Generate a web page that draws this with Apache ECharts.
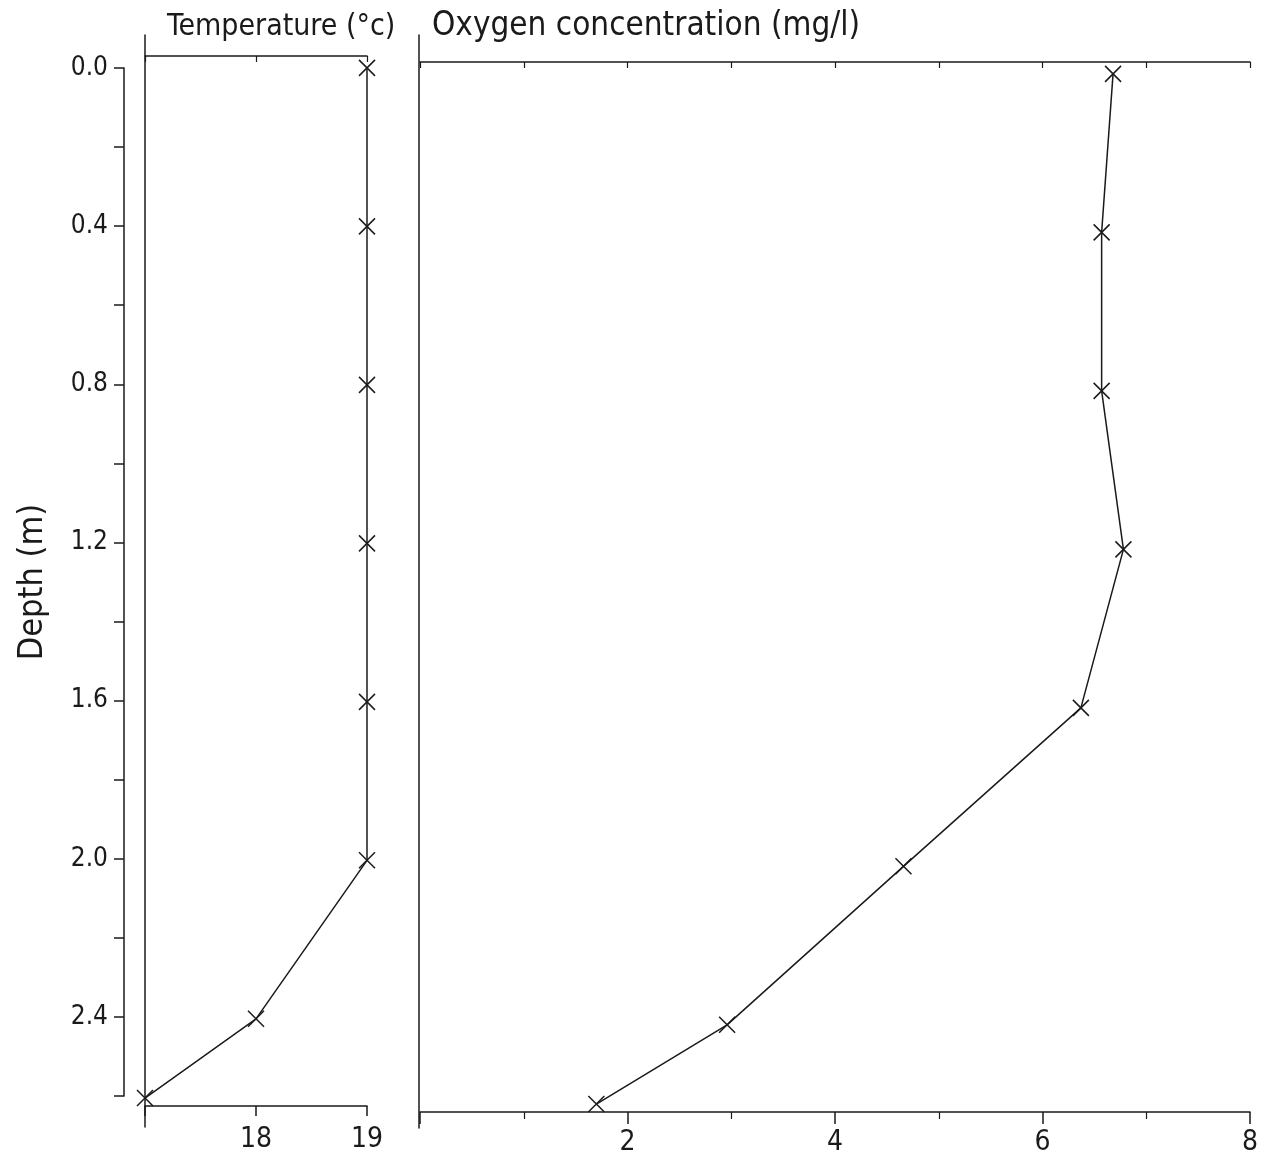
<!DOCTYPE html>
<html>
<head>
<meta charset="utf-8">
<title>Depth profile</title>
<script src="https://cdn.jsdelivr.net/npm/echarts@6/dist/echarts.min.js"></script>
<style>
  html, body { margin: 0; padding: 0; background: #fff; }
  #main { width: 1269px; height: 1158px; }
</style>
</head>
<body>
<div id="main"></div>
<script>
// sampling depths (m)
const depths = [0, 0.4, 0.8, 1.2, 1.6, 2.0, 2.4, 2.6]
// temperature (°c) at each depth
const temperature = [19, 19, 19, 19, 19, 19, 18, 17]
// oxygen concentration (mg/l) at each depth
const oxygen = [6.68, 6.57, 6.57, 6.78, 6.37, 4.66, 2.96, 1.70]
// tick labels as printed
const depthLabels = ['0.0', '0.4', '0.8', '1.2', '1.6', '2.0', '2.4']
const tempLabels = ['18', '19']
const oxygenLabels = ['2', '4', '6', '8']

const FONT = "'Liberation Sans Narrow', 'DejaVu Sans Condensed', sans-serif"
const INK = '#1a1a1a'
const cross = 'path://M0,0L10,10M10,0L0,10'

function pairs(xs, ys) {
  return ys.map((y, i) => [xs[i], y])
}

function labelFrom(list, digits) {
  return function (v) {
    const s = digits == null ? String(v) : v.toFixed(digits)
    return list.indexOf(s) >= 0 ? s : ''
  }
}

const line = { show: true, onZero: false, lineStyle: { color: INK, width: 1.5 } }
const noLine = { show: false }
const hidden = { show: false }

const option = {
  backgroundColor: '#fff',
  animation: false,
  title: [
    {
      text: 'Temperature (°c)',
      left: 167,
      top: 12,
      padding: 0,
      textStyle: { fontFamily: FONT, fontSize: 30, fontWeight: 'normal', color: INK }
    },
    {
      text: 'Oxygen concentration (mg/l)',
      left: 432,
      top: 10,
      padding: 0,
      textStyle: { fontFamily: FONT, fontSize: 33, fontWeight: 'normal', color: INK }
    }
  ],
  grid: [
    { left: 124, top: 68, width: 10, height: 1028 }, // depth scale
    { left: 145, top: 35, width: 222, height: 1092 }, // temperature frame line
    { left: 145, top: 56, width: 222, height: 1050 }, // temperature plot
    { left: 419, top: 35, width: 830, height: 1093 }, // oxygen frame line
    { left: 420, top: 62, width: 830, height: 1050 } // oxygen plot
  ],
  xAxis: [
    { gridIndex: 0, type: 'value', show: false },
    { gridIndex: 1, type: 'value', show: false },
    {
      gridIndex: 2,
      type: 'value',
      position: 'bottom',
      min: 17,
      max: 19,
      interval: 1,
      axisLine: line,
      axisTick: { show: true, inside: false, length: 10, lineStyle: { color: INK, width: 1.5 } },
      axisLabel: {
        formatter: labelFrom(tempLabels),
        fontFamily: FONT,
        fontSize: 28,
        color: INK,
        margin: 20
      },
      splitLine: hidden
    },
    {
      gridIndex: 2,
      type: 'value',
      position: 'top',
      min: 17,
      max: 19,
      interval: 1,
      axisLine: line,
      axisTick: { show: true, inside: true, length: 6, lineStyle: { color: INK, width: 1.2 } },
      axisLabel: hidden,
      splitLine: hidden
    },
    { gridIndex: 3, type: 'value', show: false },
    {
      gridIndex: 4,
      type: 'value',
      position: 'bottom',
      min: 0,
      max: 8,
      interval: 2,
      axisLine: line,
      axisTick: { show: true, inside: false, length: 12, lineStyle: { color: INK, width: 1.5 } },
      minorTick: { show: true, splitNumber: 2, length: 7, lineStyle: { color: INK, width: 1.2 } },
      axisLabel: {
        formatter: labelFrom(oxygenLabels),
        fontFamily: FONT,
        fontSize: 28,
        color: INK,
        margin: 17
      },
      splitLine: hidden
    },
    {
      gridIndex: 4,
      type: 'value',
      position: 'top',
      min: 0,
      max: 8,
      interval: 1,
      axisLine: line,
      axisTick: { show: true, inside: true, length: 6, lineStyle: { color: INK, width: 1.2 } },
      axisLabel: hidden,
      splitLine: hidden
    }
  ],
  yAxis: [
    {
      gridIndex: 0,
      type: 'value',
      inverse: true,
      min: 0,
      max: 2.6,
      interval: 0.2,
      name: 'Depth (m)',
      nameLocation: 'middle',
      nameRotate: 90,
      nameGap: 74,
      nameTextStyle: { fontFamily: FONT, fontSize: 34, color: INK },
      axisLine: line,
      axisTick: { show: true, inside: false, length: 10, lineStyle: { color: INK, width: 1.5 } },
      axisLabel: {
        formatter: labelFrom(depthLabels, 1),
        fontFamily: FONT,
        fontSize: 26,
        color: INK,
        margin: 16
      },
      splitLine: hidden
    },
    {
      gridIndex: 1,
      type: 'value',
      min: 0,
      max: 1,
      axisLine: line,
      axisTick: noLine,
      axisLabel: hidden,
      splitLine: hidden
    },
    { gridIndex: 2, type: 'value', inverse: true, min: -0.03, max: 2.62, show: false },
    {
      gridIndex: 3,
      type: 'value',
      min: 0,
      max: 1,
      axisLine: line,
      axisTick: noLine,
      axisLabel: hidden,
      splitLine: hidden
    },
    { gridIndex: 4, type: 'value', inverse: true, min: -0.03, max: 2.62, show: false }
  ],
  series: [
    {
      name: 'Temperature',
      type: 'line',
      xAxisIndex: 2,
      yAxisIndex: 2,
      data: pairs(temperature, depths),
      symbol: cross,
      symbolSize: 16,
      itemStyle: { color: INK, borderColor: INK, borderWidth: 1.5 },
      lineStyle: { color: INK, width: 1.5 },
      z: 5
    },
    {
      name: 'Oxygen',
      type: 'line',
      xAxisIndex: 5,
      yAxisIndex: 4,
      data: pairs(oxygen, depths),
      symbol: cross,
      symbolSize: 16,
      itemStyle: { color: INK, borderColor: INK, borderWidth: 1.5 },
      lineStyle: { color: INK, width: 1.5 },
      z: 5
    }
  ]
}

const chart = echarts.init(document.getElementById('main'))
chart.setOption(option)
</script>
</body>
</html>
